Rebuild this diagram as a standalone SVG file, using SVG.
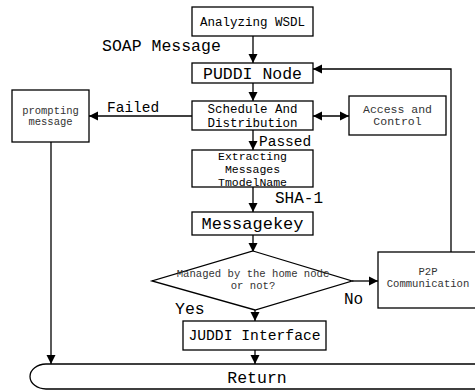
<svg xmlns="http://www.w3.org/2000/svg" width="475" height="390" viewBox="0 0 475 390">
<style>
.box{fill:#fff;stroke:#000;stroke-width:1.3}
.ln{fill:none;stroke:#000;stroke-width:1.3}
.t{font-family:"Liberation Mono","DejaVu Sans Mono",monospace;fill:#000;text-anchor:middle}
.lbl{font-family:"Liberation Mono","DejaVu Sans Mono",monospace;fill:#000}
.s{fill:#333}
</style>
<defs>
<marker id="ah" markerWidth="10" markerHeight="10" refX="9" refY="5" orient="auto" markerUnits="userSpaceOnUse">
<path d="M0,0.5 L9,5 L0,9.5 Z" fill="#000"/>
</marker>
<marker id="ahs" markerWidth="10" markerHeight="10" refX="1" refY="5" orient="auto" markerUnits="userSpaceOnUse">
<path d="M10,0.5 L1,5 L10,9.5 Z" fill="#000"/>
</marker>
</defs>

<g id="connectors">
<line class="ln" x1="253" y1="36" x2="253" y2="63" marker-end="url(#ah)"/>
<line class="ln" x1="253" y1="83" x2="253" y2="101" marker-end="url(#ah)"/>
<line class="ln" x1="192" y1="116" x2="89" y2="116" marker-end="url(#ah)"/>
<line class="ln" x1="313" y1="116" x2="349" y2="116" marker-start="url(#ahs)" marker-end="url(#ah)"/>
<line class="ln" x1="253" y1="130" x2="253" y2="150" marker-end="url(#ah)"/>
<line class="ln" x1="253" y1="187" x2="253" y2="212" marker-end="url(#ah)"/>
<line class="ln" x1="253" y1="235" x2="253" y2="252" marker-end="url(#ah)"/>
<line class="ln" x1="352" y1="281" x2="378" y2="281" marker-end="url(#ah)"/>
<polyline class="ln" points="451,252 451,69 313,69" marker-end="url(#ah)"/>
<line class="ln" x1="255" y1="310" x2="255" y2="321" marker-end="url(#ah)"/>
<line class="ln" x1="255" y1="350" x2="255" y2="364" marker-end="url(#ah)"/>
<line class="ln" x1="51" y1="142" x2="51" y2="364" marker-end="url(#ah)"/>
<text class="lbl" x="102" y="51" font-size="16.5">SOAP Message</text>
<text class="lbl" x="107" y="112" font-size="14.5">Failed</text>
<text class="lbl" x="259" y="146" font-size="14.5">Passed</text>
<text class="lbl" x="275" y="203" font-size="16">SHA-1</text>
<text class="lbl" x="344" y="304" font-size="16">No</text>
<text class="lbl" x="175" y="314" font-size="16.5">Yes</text>
</g>

<g id="analyzing">
<rect class="box" x="192" y="7" width="121" height="29"/>
<text class="t" x="252.5" y="26" font-size="12.5">Analyzing WSDL</text>
</g>
<g id="puddi">
<rect class="box" x="192" y="63" width="121" height="20"/>
<text class="t" x="252.5" y="79" font-size="16.5">PUDDI Node</text>
</g>
<g id="schedule">
<rect class="box" x="192" y="101" width="121" height="29"/>
<text class="t" x="252.5" y="113" font-size="12.5">Schedule And</text>
<text class="t" x="252.5" y="127" font-size="12.5">Distribution</text>
</g>
<g id="prompting">
<rect class="box" x="12" y="90" width="77" height="52"/>
<text class="t s" x="50.5" y="114" font-size="10.5">prompting</text>
<text class="t s" x="50.5" y="125" font-size="10.5">message</text>
</g>
<g id="access">
<rect class="box" x="349" y="96" width="97" height="39"/>
<text class="t s" x="397.5" y="113" font-size="11.5">Access and</text>
<text class="t s" x="397.5" y="125" font-size="11.5">Control</text>
</g>
<g id="extracting">
<rect class="box" x="192" y="150" width="121" height="37"/>
<text class="t" x="252.5" y="159.5" font-size="11.5">Extracting</text>
<text class="t" x="252.5" y="172.5" font-size="11.5">Messages</text>
<text class="t" x="252.5" y="185.5" font-size="11.5">TmodelName</text>
</g>
<g id="messagekey">
<rect class="box" x="192" y="212" width="121" height="23"/>
<text class="t" x="252.5" y="229" font-size="17">Messagekey</text>
</g>
<g id="decision">
<polygon class="box" points="253,251 352,281 255,310 152,281"/>
<text class="t s" x="253" y="277" font-size="10.6">Managed by the home node</text>
<text class="t s" x="253" y="289" font-size="10.6">or not?</text>
</g>
<g id="p2p">
<rect class="box" x="378" y="252" width="110" height="56"/>
<text class="t s" x="428" y="275" font-size="10.6">P2P</text>
<text class="t s" x="428" y="287" font-size="10.6">Communication</text>
</g>
<g id="juddi">
<rect class="box" x="183" y="321" width="143" height="29"/>
<text class="t" x="254.5" y="340" font-size="14.7">JUDDI Interface</text>
</g>
<g id="return">
<path class="box" d="M480,364 H46 A16,12.5 0 0 0 46,389 H480"/>
<text class="t" x="257" y="383" font-size="16.5">Return</text>
</g>
</svg>
